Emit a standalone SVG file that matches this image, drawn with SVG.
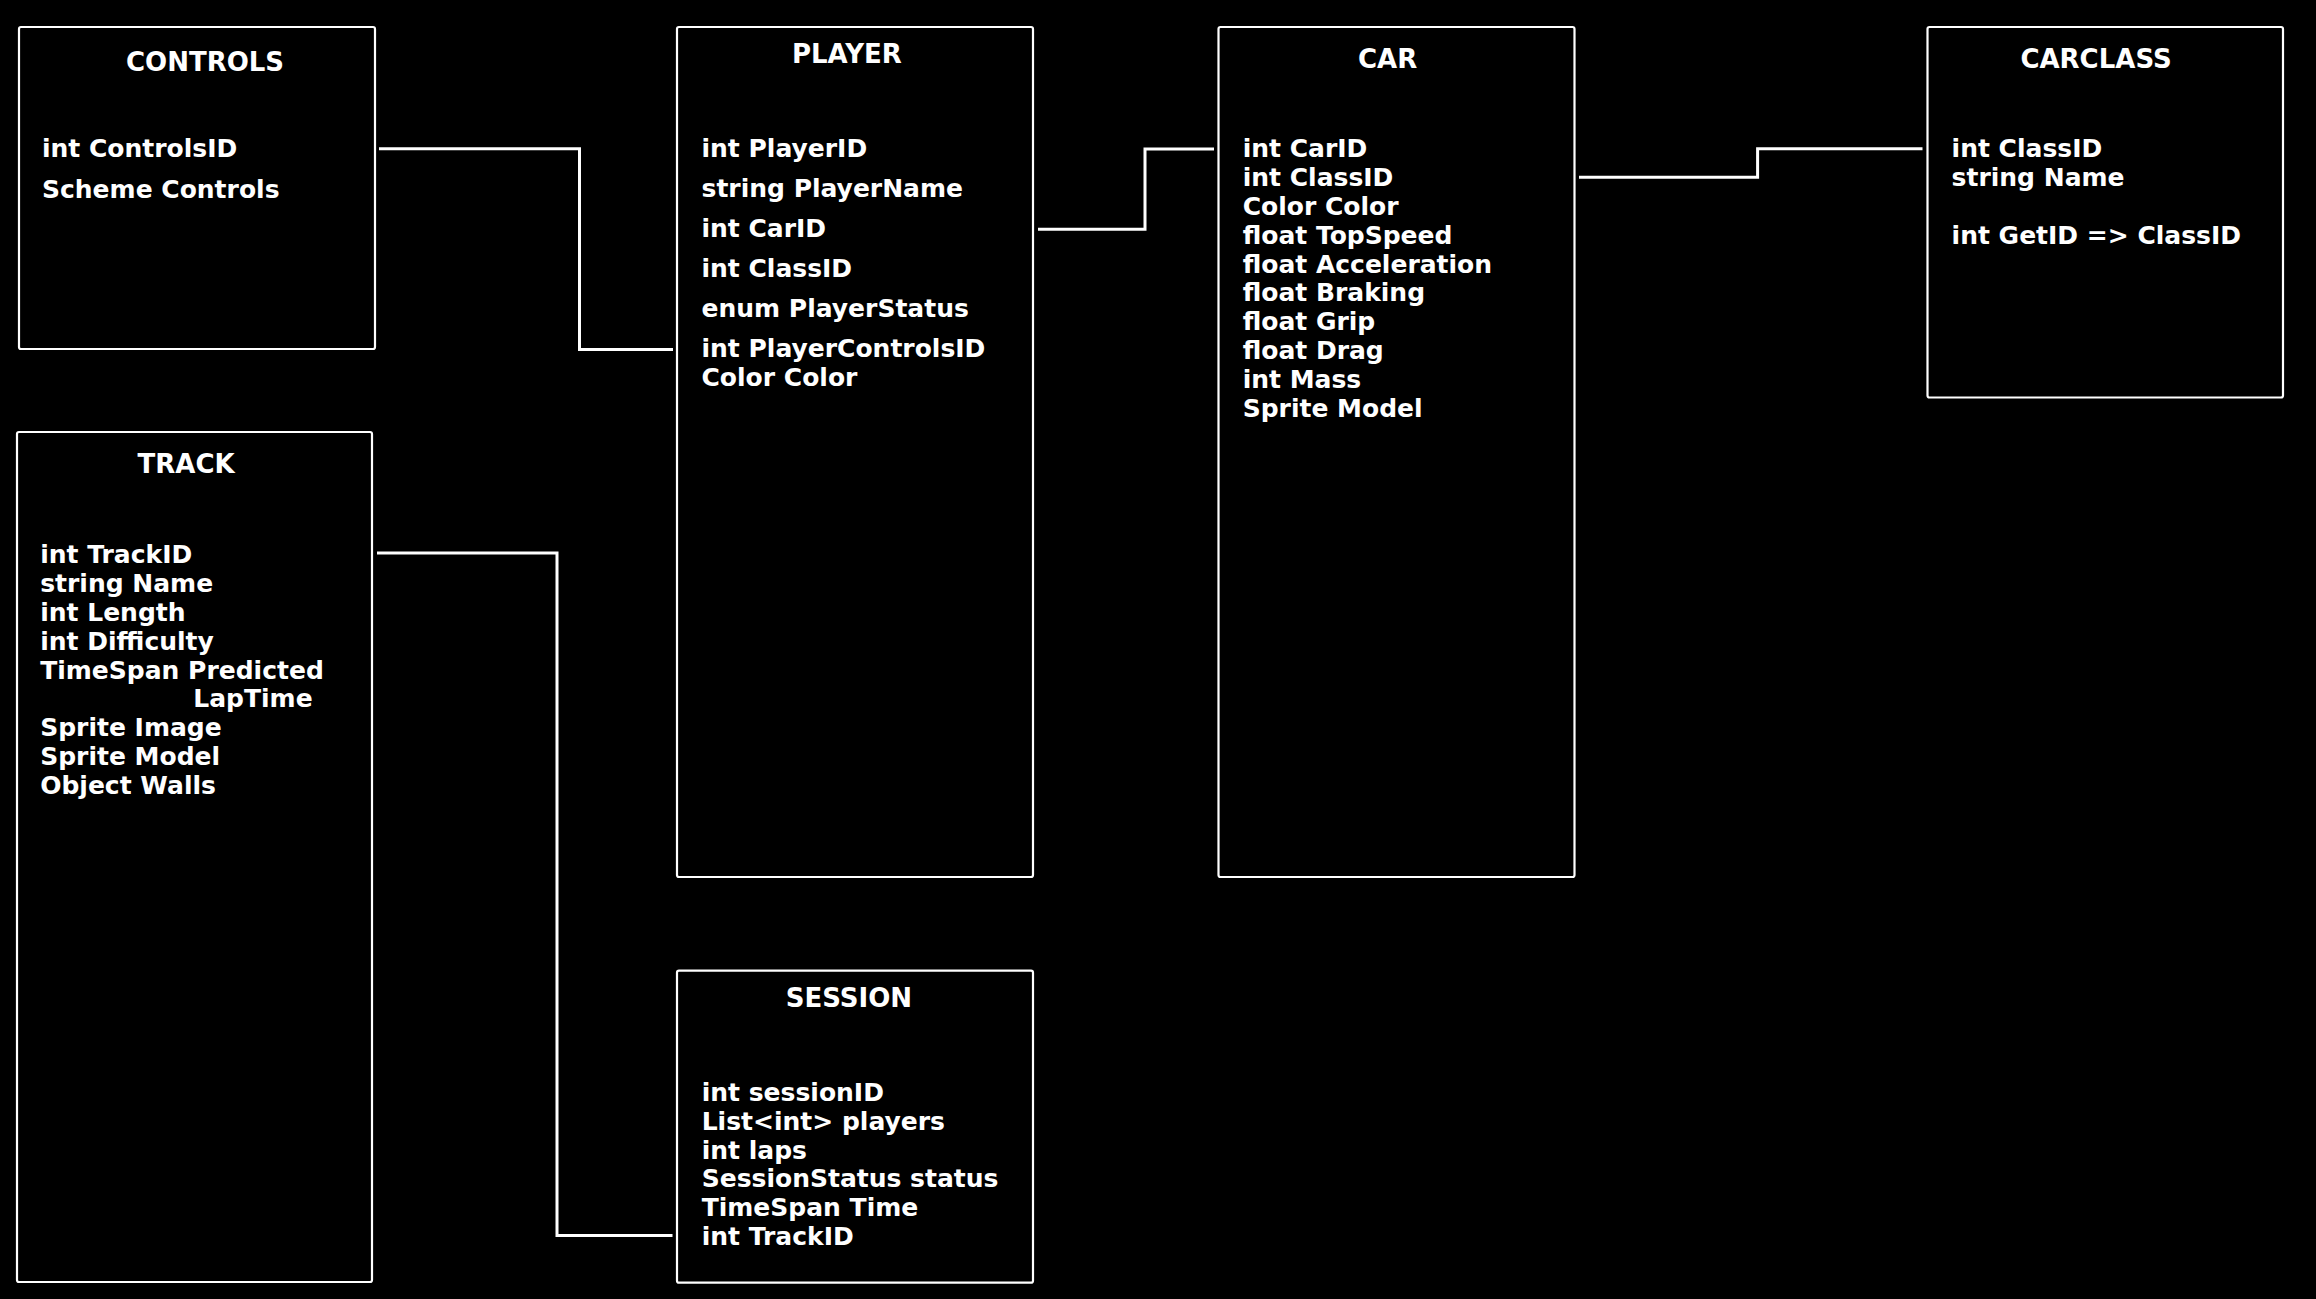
<svg xmlns="http://www.w3.org/2000/svg" width="2316" height="1299" viewBox="0 0 2316 1299">
<style>
.box{fill:#000;stroke:#fff;stroke-width:2.2}
.t{fill:#fff;font-family:"DejaVu Sans",sans-serif;font-weight:bold;font-size:26px}
.f{fill:#fff;font-family:"DejaVu Sans",sans-serif;font-weight:bold;font-size:25px}
.c{fill:none;stroke:#fff;stroke-width:3}
</style>
<rect width="2316" height="1299" fill="#000"/>
<g id="connectors">
<polyline class="c" points="379,148.7 579.5,148.7 579.5,349.5 673,349.5"/>
<polyline class="c" points="1038,229.3 1145,229.3 1145,149 1214,149"/>
<polyline class="c" points="1579,177.3 1757.6,177.3 1757.6,148.7 1922.5,148.7"/>
<polyline class="c" points="377,553 557,553 557,1235.5 672.5,1235.5"/>
</g>
<g id="controls">
<rect class="box" x="19" y="27" width="356" height="322" rx="2"/>
<text class="t" x="126" y="70.7">CONTROLS</text>
<text class="f" x="42" y="157.3">int ControlsID</text>
<text class="f" x="42" y="198">Scheme Controls</text>
</g>
<g id="player">
<rect class="box" x="677" y="27" width="356" height="850" rx="2"/>
<text class="t" x="792" y="63.3">PLAYER</text>
<text class="f" x="701.5" y="156.7">int PlayerID</text>
<text class="f" x="701.5" y="196.7">string PlayerName</text>
<text class="f" x="701.5" y="236.7">int CarID</text>
<text class="f" x="701.5" y="276.7">int ClassID</text>
<text class="f" x="701.5" y="316.7">enum PlayerStatus</text>
<text class="f" x="701.5" y="357.3">int PlayerControlsID</text>
<text class="f" x="701.5" y="386.3">Color Color</text>
</g>
<g id="car">
<rect class="box" x="1218.5" y="27" width="356" height="850" rx="2"/>
<text class="t" x="1358" y="68.3">CAR</text>
<text class="f" x="1242.7" y="157.3">int CarID</text>
<text class="f" x="1242.7" y="186.1">int ClassID</text>
<text class="f" x="1242.7" y="214.9">Color Color</text>
<text class="f" x="1242.7" y="243.7">float TopSpeed</text>
<text class="f" x="1242.7" y="272.5">float Acceleration</text>
<text class="f" x="1242.7" y="301.3">float Braking</text>
<text class="f" x="1242.7" y="330.1">float Grip</text>
<text class="f" x="1242.7" y="358.9">float Drag</text>
<text class="f" x="1242.7" y="387.7">int Mass</text>
<text class="f" x="1242.7" y="416.5">Sprite Model</text>
</g>
<g id="carclass">
<rect class="box" x="1927.5" y="27" width="355.5" height="370.5" rx="2"/>
<text class="t" x="2020.4" y="68.3">CARCLASS</text>
<text class="f" x="1951.6" y="157.3">int ClassID</text>
<text class="f" x="1951.6" y="186">string Name</text>
<text class="f" x="1951.6" y="244.3">int GetID =&gt; ClassID</text>
</g>
<g id="track">
<rect class="box" x="17" y="432" width="355" height="850" rx="2"/>
<text class="t" x="137.5" y="473.3">TRACK</text>
<text class="f" x="40.2" y="563.3">int TrackID</text>
<text class="f" x="40.2" y="592.1">string Name</text>
<text class="f" x="40.2" y="620.9">int Length</text>
<text class="f" x="40.2" y="649.7">int Difficulty</text>
<text class="f" x="40.2" y="678.5">TimeSpan Predicted</text>
<text class="f" x="193.3" y="707.3">LapTime</text>
<text class="f" x="40.2" y="736.1">Sprite Image</text>
<text class="f" x="40.2" y="764.9">Sprite Model</text>
<text class="f" x="40.2" y="793.7">Object Walls</text>
</g>
<g id="session">
<rect class="box" x="677" y="970.7" width="356" height="312" rx="2"/>
<text class="t" x="785.7" y="1007.3">SESSION</text>
<text class="f" x="701.7" y="1100.7">int sessionID</text>
<text class="f" x="701.7" y="1129.6">List&lt;int&gt; players</text>
<text class="f" x="701.7" y="1158.5">int laps</text>
<text class="f" x="701.7" y="1187.4">SessionStatus status</text>
<text class="f" x="701.7" y="1216.3">TimeSpan Time</text>
<text class="f" x="701.7" y="1245.2">int TrackID</text>
</g>
</svg>
